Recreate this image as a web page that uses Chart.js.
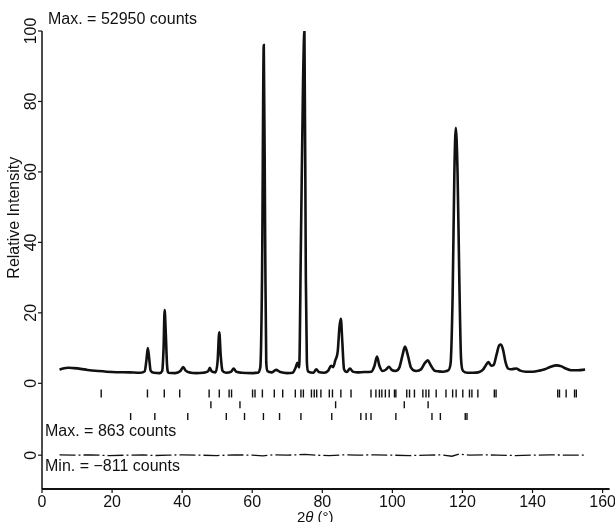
<!DOCTYPE html>
<html>
<head>
<meta charset="utf-8">
<script src="https://cdn.jsdelivr.net/npm/chart.js@4.4.1/dist/chart.umd.min.js"></script>
<style>
  html, body { margin: 0; padding: 0; background: #fff; }
  canvas { display: block; }
</style>
</head>
<body>
<canvas id="chart" width="615" height="522"></canvas>
<script>
// Observed powder pattern (2θ in degrees, intensity relative to max = 52950 counts)
const obsX = [5.0, 6.0, 7.5, 9.0, 11.0, 13.0, 16.0, 20.0, 25.0, 28.0,
  29.3, 29.8, 30.2, 30.6, 31.0, 32.0, 33.5, 34.3, 34.7, 35.0, 35.3, 35.7, 36.1,
  38.0, 39.5, 40.3, 41.0, 42.5, 44.0, 46.0, 47.4, 47.9, 48.4, 49.5,
  50.1, 50.6, 51.0, 51.5, 52.5, 54.0, 54.7, 55.4, 57.0, 60.0, 61.5,
  62.3, 62.8, 63.3, 63.7, 64.0, 64.4, 65.5, 66.8, 68.0, 70.0, 71.5,
  72.4, 72.9, 73.4, 73.9, 74.5, 74.9, 75.3, 75.6, 76.0, 77.5, 78.3, 79.0, 80.5,
  81.7, 82.5, 83.1, 83.7, 84.4, 84.9, 85.3, 85.7, 86.2, 87.0, 87.9, 88.7,
  90.0, 92.0, 94.0, 94.9, 95.6, 96.3, 97.2, 98.3, 99.0, 99.8, 100.8,
  102.0, 102.9, 103.6, 104.4, 105.3, 106.8, 108.2, 109.3, 110.1, 110.9,
  112.0, 113.0, 114.5, 115.8, 116.6, 117.2, 117.7, 118.1, 118.6, 119.1, 119.6,
  120.2, 121.5, 123.0, 124.5, 125.8, 126.6, 127.4, 128.2, 128.9, 129.7,
  130.5, 131.0, 131.6, 132.3, 133.0, 134.0, 135.3, 136.5, 138.0, 140.0,
  142.0, 143.5, 145.0, 146.8, 148.3, 149.5, 151.0, 153.0, 155.0];
const obsY = [3.9, 4.2, 4.4, 4.3, 4.1, 3.8, 3.5, 3.2, 3.1, 3.0,
  3.4, 6.5, 10.0, 7.0, 3.6, 3.0, 2.9, 3.5, 10.0, 20.8, 15.0, 5.0, 3.0,
  2.9, 3.5, 4.6, 3.6, 3.0, 2.9, 3.0, 3.4, 4.4, 3.4, 3.1,
  6.0, 14.5, 8.0, 3.6, 3.0, 3.3, 4.2, 3.3, 3.0, 2.9, 3.0,
  4.5, 30.0, 96.0, 40.0, 6.0, 3.4, 3.1, 3.8, 3.2, 2.9, 3.0,
  4.5, 5.8, 4.5, 40.0, 85.0, 100.0, 30.0, 6.0, 3.3, 3.0, 4.0, 3.2, 3.0,
  3.6, 5.0, 4.6, 6.5, 9.0, 16.0, 18.3, 12.0, 4.0, 3.2, 4.2, 3.3,
  3.1, 3.2, 3.3, 5.0, 7.6, 5.0, 3.5, 4.0, 4.7, 3.8, 3.5,
  4.5, 8.0, 10.4, 8.0, 4.5, 3.5, 4.0, 5.8, 6.5, 5.2,
  3.6, 3.4, 3.3, 3.6, 5.5, 25.0, 60.0, 72.5, 60.0, 30.0, 7.0,
  3.5, 3.0, 3.0, 3.1, 3.8, 5.0, 6.0, 5.0, 5.2, 8.0,
  10.8, 11.0, 9.5, 6.0, 4.2, 4.0, 4.2, 3.6, 3.3, 3.3,
  3.6, 4.0, 4.6, 5.1, 4.8, 4.2, 3.7, 3.7, 3.9];

// Reflection positions (2θ) for the three phases
const phase1Ticks = [16.9, 30.1, 34.9, 39.3, 47.7, 50.6, 53.4, 54.1, 60.1, 60.8, 62.9,
  66.3, 68.7, 72.3, 73.9, 74.6, 76.9, 77.7, 78.4, 79.6, 82.0, 82.9, 85.3, 88.2,
  93.9, 95.3, 96.3, 97.0, 98.0, 99.1, 100.6, 101.0, 104.1, 104.9, 106.3, 108.7,
  109.6, 110.4, 112.5, 115.3, 117.2, 118.2, 120.1, 122.0, 122.7, 124.4, 129.1,
  129.6, 147.2, 147.7, 149.6, 152.0, 152.5];
const phase2Ticks = [48.2, 56.5, 83.8, 103.4, 110.2];
const phase3Ticks = [25.3, 32.2, 41.6, 52.6, 57.8, 63.2, 67.8, 73.9, 82.7, 91.0,
  92.5, 93.9, 101.0, 111.3, 113.7, 120.8, 121.3];

// Difference curve (obs - calc), relative units
const diffX = [5, 9, 14, 19, 24, 29, 32, 36, 40, 45, 50, 55, 60, 63, 66, 70, 75,
  78, 82, 86, 90, 95, 100, 105, 110, 114, 117, 119, 122, 126, 130, 135, 140, 145, 150, 155];
const diffY = [0.1, 0.0, 0.1, -0.1, 0.0, 0.1, -0.1, 0.0, 0.1, 0.0, -0.1, 0.1, 0.0,
  -0.2, 0.1, 0.0, 0.2, 0.0, -0.1, 0.1, 0.0, 0.1, 0.0, -0.1, 0.0, 0.1, -0.3, 0.3,
  0.0, 0.1, 0.0, -0.1, 0.0, 0.1, 0.0, 0.0];
const DIFF_ZERO = -20.4;

const xTicks = [0, 20, 40, 60, 80, 100, 120, 140, 160];
const yTicks = [0, 20, 40, 60, 80, 100];

const FONT = '"Liberation Sans", Arial, Helvetica, sans-serif';
const INK = '#111';

const tickRow = (arr, y) => arr.map(x => ({ x, y }));

const axesPlugin = {
  id: 'axesPlugin',
  afterDraw(chart) {
    const { ctx, chartArea: a, scales: { x, y } } = chart;
    ctx.save();
    ctx.strokeStyle = INK;
    ctx.fillStyle = INK;
    ctx.lineWidth = 1.5;

    // left axis
    ctx.beginPath();
    ctx.moveTo(a.left, y.getPixelForValue(100));
    ctx.lineTo(a.left, a.bottom);
    ctx.stroke();
    // bottom axis
    ctx.lineWidth = 2;
    ctx.beginPath();
    ctx.moveTo(a.left, a.bottom);
    ctx.lineTo(a.right, a.bottom);
    ctx.stroke();

    // y ticks + rotated labels
    ctx.lineWidth = 1.2;
    ctx.font = '16px ' + FONT;
    ctx.textAlign = 'center';
    ctx.textBaseline = 'middle';
    const yLab = [...yTicks.map(v => [v, String(v)]), [DIFF_ZERO, '0']];
    for (const [v, lab] of yLab) {
      const py = y.getPixelForValue(v);
      ctx.beginPath();
      ctx.moveTo(a.left - 4, py);
      ctx.lineTo(a.left, py);
      ctx.stroke();
      ctx.save();
      ctx.translate(a.left - 10, py);
      ctx.rotate(-Math.PI / 2);
      ctx.fillText(lab, 0, 0);
      ctx.restore();
    }

    // x ticks + labels
    ctx.textBaseline = 'top';
    for (const v of xTicks) {
      const px = x.getPixelForValue(v);
      ctx.beginPath();
      ctx.moveTo(px, a.bottom);
      ctx.lineTo(px, a.bottom + 4);
      ctx.stroke();
      ctx.fillText(String(v), px, a.bottom + 6);
    }

    // axis titles
    ctx.save();
    ctx.translate(15, y.getPixelForValue(47));
    ctx.rotate(-Math.PI / 2);
    ctx.textBaseline = 'middle';
    ctx.font = '16px ' + FONT;
    ctx.fillText('Relative Intensity', 0, 0);
    ctx.restore();

    const tx = x.getPixelForValue(78);
    const ty = a.bottom + 21;
    ctx.font = '15px ' + FONT;
    ctx.textAlign = 'left';
    const w1 = ctx.measureText('2').width;
    ctx.font = 'italic 15px ' + FONT;
    const w2 = ctx.measureText('θ').width;
    ctx.font = '15px ' + FONT;
    const w3 = ctx.measureText(' (°)').width;
    let sx = tx - (w1 + w2 + w3) / 2;
    ctx.fillText('2', sx, ty);
    ctx.font = 'italic 15px ' + FONT;
    ctx.fillText('θ', sx + w1, ty);
    ctx.font = '15px ' + FONT;
    ctx.fillText(' (°)', sx + w1 + w2, ty);

    // count annotations
    ctx.font = '16px ' + FONT;
    ctx.textBaseline = 'middle';
    ctx.fillText('Max. = 52950 counts', a.left + 6, y.getPixelForValue(103.3));
    ctx.fillText('Max. = 863 counts', a.left + 3, y.getPixelForValue(-13.8));
    ctx.fillText('Min. = \u2212811 counts', a.left + 3, y.getPixelForValue(-23.5));
    ctx.restore();
  }
};

new Chart(document.getElementById('chart'), {
  type: 'line',
  data: {
    datasets: [
      {
        label: 'Observed',
        data: obsX.map((v, i) => ({ x: v, y: obsY[i] })),
        borderColor: INK,
        borderWidth: 2.6,
        pointRadius: 0,
        cubicInterpolationMode: 'monotone'
      },
      {
        label: 'Difference',
        data: diffX.map((v, i) => ({ x: v, y: DIFF_ZERO + diffY[i] })),
        borderColor: INK,
        borderWidth: 1.3,
        borderDash: [16, 3, 2, 3],
        pointRadius: 0
      },
      {
        label: 'Phase 1',
        data: tickRow(phase1Ticks, -2.9),
        showLine: false,
        pointStyle: 'line',
        rotation: 90,
        pointRadius: 4,
        borderColor: INK,
        borderWidth: 1.4
      },
      {
        label: 'Phase 2',
        data: tickRow(phase2Ticks, -6.1),
        showLine: false,
        pointStyle: 'line',
        rotation: 90,
        pointRadius: 3.5,
        borderColor: INK,
        borderWidth: 1.4
      },
      {
        label: 'Phase 3',
        data: tickRow(phase3Ticks, -9.4),
        showLine: false,
        pointStyle: 'line',
        rotation: 90,
        pointRadius: 3.5,
        borderColor: INK,
        borderWidth: 1.4
      }
    ]
  },
  options: {
    responsive: false,
    animation: false,
    devicePixelRatio: 1,
    layout: { padding: { left: 42, top: 31, right: 4, bottom: 33 } },
    plugins: { legend: { display: false }, tooltip: { enabled: false } },
    scales: {
      x: { type: 'linear', min: 0, max: 162, display: false },
      y: { type: 'linear', min: -30, max: 100, display: false }
    }
  },
  plugins: [axesPlugin]
});
</script>
</body>
</html>
